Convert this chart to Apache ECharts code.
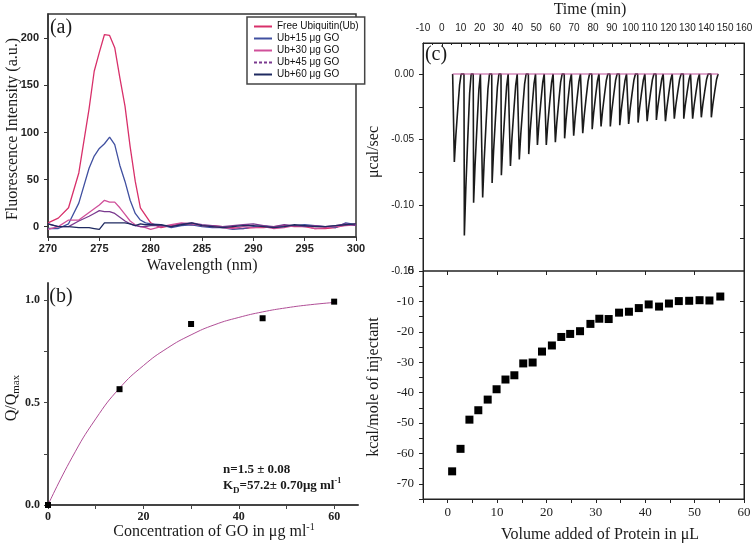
<!DOCTYPE html>
<html><head><meta charset="utf-8">
<script src="https://cdn.jsdelivr.net/npm/echarts@6/dist/echarts.min.js"></script>
<style>html,body{margin:0;padding:0;background:#fff}#c{width:756px;height:546px}</style>
</head><body><div id="c"></div>
<script>
// ---------- Panel (a): fluorescence spectra ----------
const wavelength = [270,271,272,273,274,274.5,275,275.5,276,276.5,277,277.5,278,278.5,279,279.5,280,281,282,283,284,285,286,287,288,289,290,291,292,293,294,295,296,297,298,299,300];
const freeUb = [4,9,20,57,125,165,185,204,203,190,158,128,85,48,20,12,4,-1,1,3,2,1,1,0,-1,-2,-1,-1,0,1,0,0,-2,-2,-1,2,3];
const ub15 = [-2,-2,3,25,62,75,83,88,95,87,65,48,28,14,7,4,3,2,-1,1,2,0,-1,-1,-3,-2,0,1,-1,0,1,2,1,0,-1,4,2];
const ub30 = [-3,0,7,7,15,19,23,28,26,26,20,13,6,2,0,-1,-3,0,2,4,3,1,0,-1,-2,0,-1,0,-2,-1,1,1,-2,-1,0,1,2];
const ub45 = [3,0,0,6,11,14,17,16,16,14,10,6,3,1,0,0,1,1,0,3,4,2,1,0,1,2,3,1,0,2,1,0,1,0,1,3,1];
const ub60 = [3,0,0,-1,-1,-2,-3,4,4,4,4,4,3,1,3,2,2,2,0,2,4,1,0,-1,0,1,1,0,-1,0,2,1,0,0,1,2,3];
const spectraNames = ['Free Ubiquitin(Ub)','Ub+15 μg GO','Ub+30 μg GO','Ub+45 μg GO','Ub+60 μg GO'];
const spectraColors = ['#d8306a','#4050a0','#d0509a','#7a3a8f','#1f2a60'];
const yTicksA = [0,50,100,150,200];

// ---------- Panel (b): quenching ----------
const concGO = [0,15,30,45,60];
const qRatio = [0,0.565,0.883,0.911,0.992];
const fitConc = [0,5,10,15,20,25,30,35,40,45,50,55,60];
const fitQ = [0,0.23,0.42,0.57,0.68,0.765,0.83,0.88,0.915,0.942,0.962,0.977,0.988];

// ---------- Panel (c): ITC ----------
const injTime = [6.4,11.7,16.6,21.4,26.4,31.3,36.1,40.8,45.8,50.4,55.1,59.9,64.8,69.6,74.4,79.4,84.1,89.0,94.0,98.7,103.7,108.5,113.4,118.2,122.9,127.9,132.6,137.2,142.5];
const injPeak = [-0.067,-0.123,-0.098,-0.094,-0.083,-0.077,-0.070,-0.065,-0.061,-0.054,-0.054,-0.052,-0.049,-0.047,-0.045,-0.042,-0.040,-0.040,-0.039,-0.038,-0.037,-0.036,-0.035,-0.036,-0.034,-0.034,-0.034,-0.033,-0.033];
// spike recovery profile: minutes after injection, fraction of peak
const recOffset = [0,0.2,1.0,2.0,3.0,3.8];
const recFrac = [0,1,0.7,0.4,0.12,0];
const baseTime = [5.7,146.4];
const baseVal = [0,0];
const volAdded = [0.9,2.6,4.4,6.2,8.1,9.9,11.7,13.5,15.3,17.2,19.1,21.1,23.0,24.8,26.8,28.9,30.7,32.6,34.7,36.7,38.7,40.7,42.8,44.8,46.8,48.9,51.0,53.0,55.2];
const heatInj = [-65.9,-58.5,-48.9,-45.8,-42.3,-38.9,-35.7,-34.3,-30.4,-30.1,-26.5,-24.5,-21.7,-20.7,-19.8,-17.4,-15.7,-15.8,-13.7,-13.4,-12.2,-11.0,-11.7,-10.7,-9.9,-9.8,-9.6,-9.7,-8.4];

const SERIF = 'Liberation Serif', SANS = 'Liberation Sans';
const zip = (a,b) => a.map((v,i)=>[v,b[i]]);
const range = (a,b,s) => { const r=[]; for(let v=a; v<=b+1e-9; v+=s) r.push(+v.toFixed(4)); return r; };

const trace = [[baseTime[0],0]];
injTime.forEach((t,i)=>{ recOffset.forEach((o,k)=>trace.push([+(t+o).toFixed(2), injPeak[i]*recFrac[k]])); });
trace.push([baseTime[1],0]);

const chart = echarts.init(document.getElementById('c'), null, {renderer:'canvas'});

function txt(x,y,text,font,opt){
  return Object.assign({type:'text', x:x, y:y, z:10, style:Object.assign({text:text, font:font, fill:'#1a1a1a', align:'center', verticalAlign:'middle', textAlign:'center', textVerticalAlign:'middle'}, opt&&opt.style||{})}, opt&&opt.el||{});
}
function line(c,w){ return {onZero:false, lineStyle:{color:c, width:w}}; }

const seriesA = [freeUb,ub15,ub30,ub45,ub60].map((arr,i)=>({
  type:'line', name:spectraNames[i], xAxisIndex:0, yAxisIndex:0, data:zip(wavelength,arr),
  symbol:'none', lineStyle:{color:spectraColors[i], width:1.3}, itemStyle:{color:spectraColors[i]}
}));

const solidIcon = 'path://M0,0h18v2h-18z';
const dashIcon = 'path://M0,0h3v2h-3z M5,0h3v2h-3z M10,0h3v2h-3z M15,0h3v2h-3z';

const option = {
  animation:false,
  backgroundColor:'#fff',
  grid:[
    {left:48, top:14, width:308, height:223, show:true, borderColor:'#333', borderWidth:1.5, outerBoundsMode:'none', containLabel:false},
    {left:48, top:283, width:310, height:222, show:false, outerBoundsMode:'none', containLabel:false},
    {left:423, top:43, width:321, height:228, show:true, borderColor:'#222', borderWidth:1, outerBoundsMode:'none', containLabel:false},
    {left:423, top:271, width:321, height:228, show:true, borderColor:'#222', borderWidth:1, outerBoundsMode:'none', containLabel:false}
  ],
  legend:{
    orient:'vertical', left:247, top:17, padding:[4,6,4,7], itemGap:1, itemWidth:18, itemHeight:2,
    borderColor:'#444', borderWidth:1.5, backgroundColor:'#fff',
    textStyle:{fontFamily:SANS, fontSize:10, color:'#111', lineHeight:11},
    data:spectraNames.map((n,i)=> ({name:n, icon: i===3 ? dashIcon : solidIcon}))
  },
  xAxis:[
    {gridIndex:0, type:'value', min:270, max:300, interval:5,
     axisLine:line('#333',1.5), axisTick:{length:4, lineStyle:{color:'#333'}},
     axisLabel:{fontFamily:SANS, fontWeight:'bold', fontSize:11, color:'#222', margin:6}, splitLine:{show:false}},
    {gridIndex:1, type:'value', min:0, max:65,
     axisLine:line('#444',2), axisTick:{length:4, customValues:range(0,60,10), lineStyle:{color:'#444'}},
     axisLabel:{customValues:[0,20,40,60], fontFamily:SERIF, fontWeight:'bold', fontSize:12, color:'#222', margin:6}, splitLine:{show:false}},
    {gridIndex:2, type:'value', position:'top', min:-10, max:160, interval:10,
     axisLine:line('#222',1), axisTick:{inside:true, length:4, lineStyle:{color:'#222'}},
     minorTick:{show:true, splitNumber:2, length:2, lineStyle:{color:'#222'}},
     axisLabel:{fontFamily:SANS, fontSize:10, color:'#222', margin:10}, splitLine:{show:false}},
    {gridIndex:3, type:'value', min:-5, max:60,
     axisLine:line('#222',1), axisTick:{length:4, customValues:range(-5,60,5), lineStyle:{color:'#222'}},
     axisLabel:{customValues:range(0,60,10), fontFamily:SERIF, fontSize:13, color:'#222', margin:7}, splitLine:{show:false}},
    {gridIndex:3, type:'value', position:'top', min:-5, max:60,
     axisLine:{show:false, onZero:false}, axisTick:{inside:true, length:4, customValues:range(0,60,10), lineStyle:{color:'#222'}},
     axisLabel:{show:false}, splitLine:{show:false}}
  ],
  yAxis:[
    {gridIndex:0, type:'value', min:-11, max:225.8,
     axisLine:line('#333',1.5), axisTick:{show:true, length:4, customValues:yTicksA, lineStyle:{color:'#333'}},
     axisLabel:{customValues:yTicksA, fontFamily:SANS, fontWeight:'bold', fontSize:11, color:'#222', margin:9}, splitLine:{show:false}},
    {gridIndex:1, type:'value', min:0, max:1.083,
     axisLine:line('#444',2), axisTick:{show:true, length:4, customValues:[0,0.25,0.5,0.75,1.0], lineStyle:{color:'#444'}},
     axisLabel:{customValues:[0,0.5,1.0], formatter:v=>(+v).toFixed(1), fontFamily:SERIF, fontWeight:'bold', fontSize:12, color:'#222', margin:8}, splitLine:{show:false}},
    {gridIndex:2, type:'value', min:-0.15, max:0.0236,
     axisLine:line('#222',1), axisTick:{show:true, length:4, customValues:[-0.15,-0.125,-0.1,-0.075,-0.05,-0.025,0], lineStyle:{color:'#222'}},
     axisLabel:{customValues:[-0.15,-0.1,-0.05,0], formatter:v=>(+v).toFixed(2), fontFamily:SANS, fontSize:10, color:'#222', margin:9}, splitLine:{show:false}},
    {gridIndex:2, type:'value', position:'right', min:-0.15, max:0.0236,
     axisLine:line('#222',1), axisTick:{show:true, inside:true, length:4, customValues:[-0.125,-0.1,-0.075,-0.05,-0.025,0], lineStyle:{color:'#222'}},
     axisLabel:{show:false}, splitLine:{show:false}},
    {gridIndex:3, type:'value', min:-75, max:0,
     axisLine:line('#222',1), axisTick:{show:true, length:4, customValues:range(-75,0,5), lineStyle:{color:'#222'}},
     axisLabel:{customValues:range(-70,0,10), fontFamily:SERIF, fontSize:13, color:'#222', margin:9}, splitLine:{show:false}},
    {gridIndex:3, type:'value', position:'right', min:-75, max:0,
     axisLine:line('#222',1), axisTick:{show:true, inside:true, length:4, customValues:range(-70,-10,10), lineStyle:{color:'#222'}},
     axisLabel:{show:false}, splitLine:{show:false}}
  ],
  series: seriesA.concat([
    {type:'line', name:'fit', xAxisIndex:1, yAxisIndex:1, data:zip(fitConc,fitQ), smooth:true, symbol:'none',
     lineStyle:{color:'#b04e96', width:1}, z:2},
    {type:'scatter', name:'Q', xAxisIndex:1, yAxisIndex:1, data:zip(concGO,qRatio), symbol:'rect', symbolSize:6,
     itemStyle:{color:'#000', opacity:1}, z:3, clip:false},
    {type:'line', name:'thermogram', xAxisIndex:2, yAxisIndex:2, data:trace, symbol:'none',
     lineStyle:{color:'#1a1a1a', width:1.6}, z:2},
    {type:'line', name:'baseline', xAxisIndex:2, yAxisIndex:2, data:zip(baseTime,baseVal), symbol:'none',
     lineStyle:{color:'#c0509a', width:1.2}, z:3},
    {type:'scatter', name:'heat', xAxisIndex:3, yAxisIndex:4, data:zip(volAdded,heatInj), symbol:'rect', symbolSize:8,
     itemStyle:{color:'#000', opacity:1}, z:3}
  ]),
  graphic:[
    txt(61,28,'(a)','20px '+SERIF),
    txt(61,297,'(b)','20px '+SERIF),
    txt(436,55,'(c)','20px '+SERIF),
    txt(13,129,'Fluorescence Intensity (a.u.)','16px '+SERIF,{el:{rotation:Math.PI/2}}),
    txt(202,266,'Wavelength (nm)','16px '+SERIF),
    {type:'text', x:12, y:398, rotation:Math.PI/2, z:10, style:{
      text:'{a|Q/Q}{b|max}', align:'center', verticalAlign:'middle', fill:'#1a1a1a',
      rich:{a:{fontFamily:SERIF, fontSize:16, lineHeight:20, verticalAlign:'middle'},
            b:{fontFamily:SERIF, fontSize:11, lineHeight:11, verticalAlign:'bottom'}}}},
    {type:'text', x:214, y:532, z:10, style:{
      text:'{a|Concentration of GO in μg ml}{s|-1}', align:'center', verticalAlign:'middle', fill:'#1a1a1a',
      rich:{a:{fontFamily:SERIF, fontSize:16, lineHeight:20, verticalAlign:'middle'},
            s:{fontFamily:SERIF, fontSize:10, lineHeight:10, verticalAlign:'top'}}}},
    {type:'text', x:223, y:470, z:10, style:{
      text:'n=1.5 ± 0.08', font:'bold 13px '+SERIF, fill:'#1a1a1a', align:'left', verticalAlign:'middle'}},
    {type:'text', x:223, y:486, z:10, style:{
      text:'{a|K}{b|D}{a|=57.2± 0.70μg ml}{s|-1}', align:'left', verticalAlign:'middle', fill:'#1a1a1a',
      rich:{a:{fontFamily:SERIF, fontWeight:'bold', fontSize:13, lineHeight:18, verticalAlign:'middle'},
            b:{fontFamily:SERIF, fontWeight:'bold', fontSize:9, lineHeight:9, verticalAlign:'bottom'},
            s:{fontFamily:SERIF, fontWeight:'bold', fontSize:8, lineHeight:8, verticalAlign:'top'}}}},
    txt(590,10,'Time (min)','16px '+SERIF),
    txt(374,152,'μcal/sec','16px '+SERIF,{el:{rotation:Math.PI/2}}),
    txt(374,387,'kcal/mole of injectant','16px '+SERIF,{el:{rotation:Math.PI/2}}),
    txt(600,535,'Volume added of Protein in μL','16px '+SERIF)
  ]
};
chart.setOption(option);
</script>
</body></html>
